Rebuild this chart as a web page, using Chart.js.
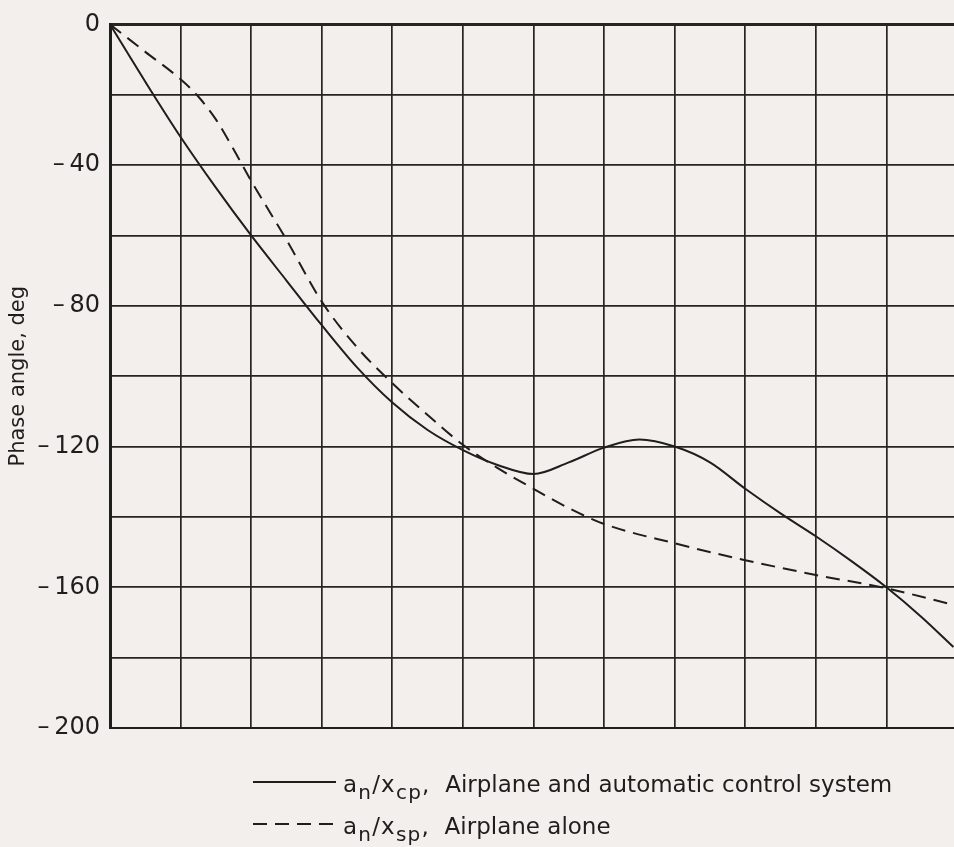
<!DOCTYPE html>
<html>
<head>
<meta charset="utf-8">
<script src="https://cdn.jsdelivr.net/npm/chart.js@4/dist/chart.umd.min.js"></script>
<style>
  html, body { margin: 0; padding: 0; background: #f3efec; overflow: hidden; }
  #wrap { width: 962px; height: 847px; }
</style>
</head>
<body>
<div id="wrap"><canvas id="phase" width="962" height="847"></canvas></div>
<script>
// Frequency axis in grid divisions (no printed scale), phase angle in degrees.
const xControl = [0, 0.5, 1, 1.5, 2, 2.5, 3, 3.5, 4, 4.5, 5, 5.5, 6, 6.5, 7, 7.5, 8, 8.5, 9, 9.5, 10, 10.5, 11, 11.5, 11.95];
const phaseControl = [0, -16.3, -32, -46.4, -60, -72.8, -85.5, -97.5, -107.5, -115.3, -121, -125.3, -127.8, -124.5, -120.3, -118, -120, -124.5, -132, -139, -145.5, -152.5, -160, -168.5, -177];

const xAlone = [0, 0.5, 1, 1.25, 1.5, 1.75, 2, 2.5, 3, 3.5, 4, 4.5, 5, 5.5, 6, 6.5, 7, 8, 9, 10, 11, 11.95];
const phaseAlone = [0, -7.8, -15.6, -20.5, -27, -35.5, -44.5, -61.2, -78.8, -91.8, -102, -111, -119.5, -126.2, -132, -137.5, -142, -147.5, -152.3, -156.5, -160.3, -165];

const yTickValues = [0, -40, -80, -120, -160, -200];
const yTitle = 'Phase angle, deg';

// Legend entries: symbol runs (normal / subscript) followed by the description.
const legendSymbols = [
  [{ t: 'a' }, { t: 'n', sub: true }, { t: '/x' }, { t: 'cp', sub: true }, { t: ',' }],
  [{ t: 'a' }, { t: 'n', sub: true }, { t: '/x' }, { t: 'sp', sub: true }, { t: ',' }]
];
const legendDescriptions = ['Airplane and automatic control system', 'Airplane alone'];

const INK = '#1e1e1c';
const GRID = '#252522';
const FONT = '"DejaVu Sans", sans-serif';

const paper = {
  id: 'paper',
  beforeDraw(chart) {
    const c = chart.ctx;
    c.save();
    c.fillStyle = '#f3efec';
    c.fillRect(0, 0, chart.width, chart.height);
    c.restore();
  }
};

function drawRuns(c, runs, x, baseline, size, spacing) {
  c.letterSpacing = spacing + 'px';
  for (const r of runs) {
    const s = r.sub ? Math.round(size * 0.88) : size;
    c.font = s + 'px ' + FONT;
    const y = r.sub ? baseline + size * 0.3 : baseline;
    c.fillText(r.t, x, y);
    x += c.measureText(r.t).width;
  }
  c.letterSpacing = '0px';
  return x;
}

const keyLegend = {
  id: 'keyLegend',
  afterDraw(chart) {
    const c = chart.ctx;
    const x0 = 253, x1 = 336, tx = 343;
    const baselines = [792, 834];
    c.save();
    chart.data.datasets.forEach((ds, i) => {
      const b = baselines[i];
      c.strokeStyle = ds.borderColor;
      c.lineWidth = ds.borderWidth;
      c.setLineDash(ds.borderDash || []);
      c.beginPath();
      c.moveTo(x0, b - 10);
      c.lineTo(x1, b - 10);
      c.stroke();
      c.setLineDash([]);
      c.fillStyle = INK;
      c.textBaseline = 'alphabetic';
      c.textAlign = 'left';
      let x = drawRuns(c, legendSymbols[i], tx, b, 23, 1.2);
      c.font = '23px ' + FONT;
      x += c.measureText('  ').width;
      c.fillText(legendDescriptions[i], x, b);
    });
    c.restore();
  }
};

new Chart(document.getElementById('phase'), {
  type: 'line',
  data: {
    datasets: [
      {
        label: 'an/xcp',
        data: xControl.map((x, i) => ({ x, y: phaseControl[i] })),
        borderColor: INK,
        borderWidth: 2,
        pointRadius: 0,
        cubicInterpolationMode: 'monotone',
        fill: false
      },
      {
        label: 'an/xsp',
        data: xAlone.map((x, i) => ({ x, y: phaseAlone[i] })),
        borderColor: INK,
        borderWidth: 2,
        borderDash: [14, 8],
        pointRadius: 0,
        cubicInterpolationMode: 'monotone',
        fill: false
      }
    ]
  },
  options: {
    responsive: false,
    animation: false,
    layout: { padding: { left: 0, top: 20, right: 5, bottom: 119 } },
    plugins: { legend: { display: false }, tooltip: { enabled: false } },
    scales: {
      x: {
        type: 'linear',
        min: 0,
        max: 12,
        ticks: { display: false, stepSize: 1 },
        grid: { color: GRID, lineWidth: 1.7, drawTicks: false },
        border: { color: INK, width: 2 },
        afterFit(s) { s.height = 0; }
      },
      y: {
        type: 'linear',
        min: -200,
        max: 0,
        ticks: {
          stepSize: 20,
          padding: 10,
          color: INK,
          font: { family: FONT, size: 24 },
          callback: v => yTickValues.includes(v) ? (v < 0 ? '\u2013\u2009' + Math.abs(v) : String(v)) : ''
        },
        grid: {
          color: GRID,
          lineWidth: ctx => (ctx.tick && ctx.tick.value === 0) ? 3 : 1.7,
          drawTicks: false
        },
        border: { color: INK, width: 3 },
        title: {
          display: true,
          text: yTitle,
          color: INK,
          font: { family: FONT, size: 21 },
          padding: { top: 6, bottom: 0 }
        },
        afterFit(s) { s.width = 110; }
      }
    }
  },
  plugins: [paper, keyLegend]
});
</script>
</body>
</html>
